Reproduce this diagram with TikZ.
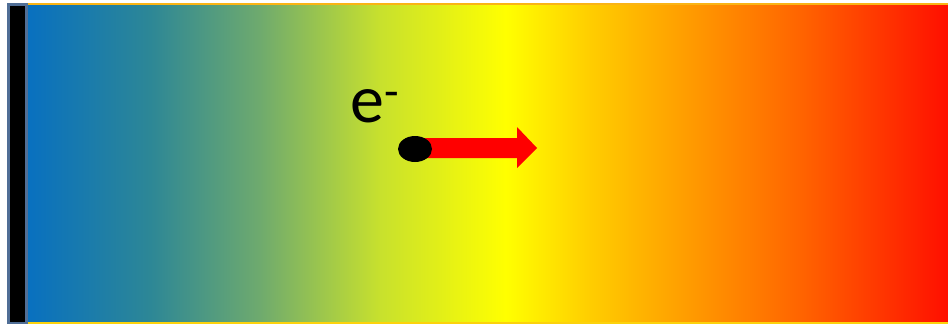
\documentclass[tikz,border=0pt]{standalone}
\usepackage{fontspec}
\setmainfont{Carlito}
\definecolor{cA}{RGB}{8,112,192}
\definecolor{cB}{RGB}{45,135,150}
\definecolor{cC}{RGB}{110,170,110}
\definecolor{cD}{RGB}{200,225,45}
\definecolor{cE}{RGB}{255,255,0}
\definecolor{cF}{RGB}{255,205,0}
\definecolor{cG}{RGB}{255,160,0}
\definecolor{cH}{RGB}{255,100,0}
\definecolor{cI}{RGB}{255,15,0}
\definecolor{barline}{RGB}{80,110,150}
\definecolor{topline}{RGB}{250,180,20}
\pgfdeclarehorizontalshading{temp}{100bp}{color(0bp)=(cA); color(25bp)=(cA); color(31.7bp)=(cB); color(37.6bp)=(cC); color(44.2bp)=(cD); color(51bp)=(cE); color(55.6bp)=(cF); color(60.4bp)=(cG); color(67bp)=(cH); color(75bp)=(cI); color(100bp)=(cI)}
\tikzset{
  field/.style={shading=temp},
  electrode/.style={fill=black, draw=barline, line width=2.5pt},
  arrowbody/.style={fill=red},
  electron/.style={fill=black}
}
\begin{document}
\begin{tikzpicture}[x=1pt,y=-1pt]
\useasboundingbox (0,0) rectangle (948,324);
\fill[topline] (27,3) rectangle (948,5.5);
\shade[field] (27,5) rectangle (948,322);
\fill[topline!60!yellow] (27,322) rectangle (948,323.5);
\draw[electrode] (8.5,4.5) rectangle (26.5,323);
\fill[arrowbody] (424,138) -- (517,138) -- (517,127) -- (537,148) -- (517,168) -- (517,158) -- (424,158) -- cycle;
\fill[electron] (415,149) ellipse [x radius=17, y radius=13];
\node[anchor=base west, inner sep=0pt, font=\fontsize{68}{70}\selectfont] (elabel) at (350,122) {e\raisebox{5pt}{\textsuperscript{-}}};
\end{tikzpicture}
\end{document}
